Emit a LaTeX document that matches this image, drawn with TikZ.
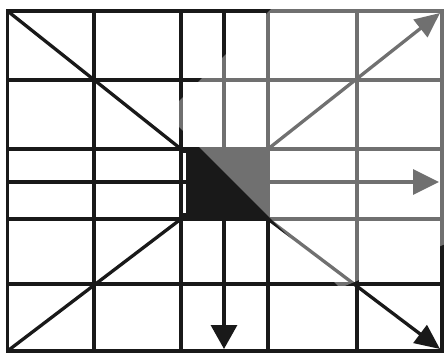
\documentclass[tikz,border=0pt]{standalone}
\usetikzlibrary{arrows.meta}
\begin{document}
\begin{tikzpicture}[x=1pt,y=-1pt,
  gridline/.style={line width=3.3pt,draw=black!90},
  diag/.style={line width=3.3pt,draw=black!90},
  bigtip/.style={-{Triangle[length=24pt,width=26pt]}},
  veil/.style={fill=white,fill opacity=0.38,draw=none}]
\useasboundingbox (0,0) rectangle (445,353);
% named points
\coordinate (TL) at (7.5,11);
\coordinate (TR) at (442,11);
\coordinate (BL) at (7.5,351);
\coordinate (BR) at (442,351);
\coordinate (sqTL) at (181,149);
\coordinate (sqTR) at (268,149);
\coordinate (sqBL) at (181,219);
\coordinate (sqBR) at (268,219);
\coordinate (topMid) at (224,11);
\coordinate (downEnd) at (224,349);
\coordinate (rightEnd) at (439,182);
\coordinate (neEnd) at (440,13);
\coordinate (seEnd) at (440,349);
% central square
\fill[black!90] (sqTL) rectangle (sqBR);
\fill[white] (183.3,153) rectangle (186,213);
% grid: vertical lines
\foreach \x in {94,181,268,357}
  \draw[gridline] (\x,11) -- (\x,351);
\draw[gridline] (topMid) -- (224,219);
% grid: horizontal lines
\foreach \y in {80,149,219,284}
  \draw[gridline] (7.5,\y) -- (442,\y);
\draw[gridline] (7.5,182) -- (268,182);
% frame
\draw[gridline] (TL) rectangle (BR);
% arrows
\draw[gridline,bigtip] (224,219) -- (downEnd);
\draw[gridline,-{Triangle[length=26pt,width=25pt]}] (268,182) -- (rightEnd);
% diagonals
\draw[diag] (TL) -- (sqTL);
\draw[diag] (BL) -- (sqBL);
\draw[diag,-{Triangle[length=25pt,width=22pt]}] (sqTR) -- (neEnd);
\draw[diag,-{Triangle[length=25pt,width=22pt]}] (sqBR) -- (seEnd);
% faded band over the upper right
\fill[veil] (290,-10) -- (166,114) -- (340,288) -- (455,240) -- (455,-10) -- cycle;
\end{tikzpicture}
\end{document}
